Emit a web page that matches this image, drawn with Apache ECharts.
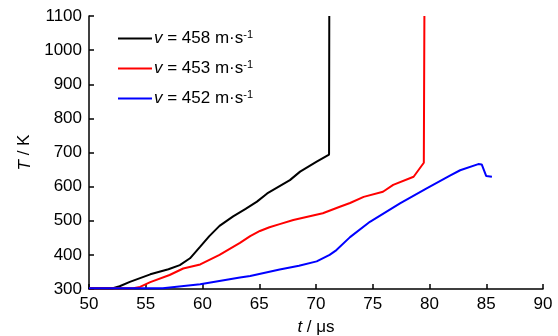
<!DOCTYPE html>
<html>
<head>
<meta charset="utf-8">
<script src="https://cdn.jsdelivr.net/npm/echarts@6/dist/echarts.min.js"></script>
<style>
  html, body { margin: 0; padding: 0; background: #fff; }
  #chart { width: 558px; height: 336px; }
</style>
</head>
<body>
<div id="chart"></div>
<script>
// t (us), T (K)
const v458 = [[50,302],[52.1,302],[52.7,308],[53.6,321],[55.4,343],[57,358],[58,370],[58.9,390],[59.8,424],[60.6,455],[61.5,485],[62.7,513],[63.8,535],[64.8,556],[65.7,580],[67.7,619],[68.6,644],[70.06,673],[71.15,694],[71.17,1100]];
const v453 = [[50,302],[53.9,302],[54.5,306],[55.4,320],[57.1,341],[58.3,360],[59.8,372],[61.5,400],[63.3,435],[64.2,455],[65.06,470],[65.9,481],[66.8,490],[68,502],[70.6,522],[72.1,541],[73,552],[74.2,570],[75.9,585],[76.8,605],[78.6,629],[79.5,670],[79.55,1100]];
const v452 = [[50,302],[56.5,302],[59.8,314],[63.3,334],[64.2,338],[66.8,357],[68.5,368],[70.06,381],[71.2,400],[71.8,414],[73,452],[74.75,497],[77.4,551],[79.75,595],[81.8,632],[82.7,648],[84.3,666],[84.6,665],[85.0,631],[85.5,629]];
const seriesNames = ['458', '453', '452'];
const seriesColors = ['#000000', '#ff0000', '#0000ff'];

const chart = echarts.init(document.getElementById('chart'));
const font = 'Liberation Sans, Arial, sans-serif';

const option = {
  animation: false,
  grid: { left: 89, right: 15, top: 16, bottom: 47, outerBoundsMode: 'none', containLabel: false },
  legend: {
    left: 113,
    top: 24,
    orient: 'vertical',
    icon: 'rect',
    itemWidth: 34,
    itemHeight: 2,
    itemGap: 12,
    textStyle: {
      fontFamily: font,
      fontSize: 17,
      color: '#000',
      padding: [0, 0, 0, -3],
      rich: {
        i: { fontStyle: 'italic', fontFamily: font, fontSize: 17, color: '#000' },
        n: { fontFamily: font, fontSize: 17, color: '#000' },
        sup: { fontFamily: font, fontSize: 11, color: '#000', verticalAlign: 'top', padding: [0, 0, 8, 0] }
      }
    },
    formatter: function (name) {
      return '{i|v}{n| = ' + name + ' m·s}{sup|-1}';
    },
    data: seriesNames
  },
  xAxis: {
    type: 'value',
    min: 50,
    max: 90,
    interval: 5,
    name: '{i|t}{n| / μs}',
    nameLocation: 'middle',
    nameGap: 30,
    nameTextStyle: {
      rich: {
        i: { fontStyle: 'italic', fontFamily: font, fontSize: 17, color: '#000' },
        n: { fontFamily: font, fontSize: 17, color: '#000' }
      }
    },
    axisLine: { lineStyle: { color: '#000', width: 1.5 } },
    axisTick: { inside: true, length: 5, lineStyle: { color: '#000', width: 1.5 } },
    axisLabel: { fontFamily: font, fontSize: 17, color: '#000', margin: 7 },
    splitLine: { show: false }
  },
  yAxis: {
    type: 'value',
    min: 300,
    max: 1100,
    interval: 100,
    name: '{i|T}{n| / K}',
    nameLocation: 'middle',
    nameGap: 52,
    nameRotate: 90,
    nameTextStyle: {
      rich: {
        i: { fontStyle: 'italic', fontFamily: font, fontSize: 17, color: '#000' },
        n: { fontFamily: font, fontSize: 17, color: '#000' }
      }
    },
    axisLine: { show: true, lineStyle: { color: '#000', width: 1.5 } },
    axisTick: { show: true, inside: true, length: 5, lineStyle: { color: '#000', width: 1.5 } },
    axisLabel: {
      fontFamily: font, fontSize: 17, color: '#000', margin: 7,
      formatter: function (v) { return String(v); }
    },
    splitLine: { show: false }
  },
  series: [v458, v453, v452].map(function (d, i) {
    return {
      name: seriesNames[i],
      type: 'line',
      data: d,
      symbol: 'none',
      lineStyle: { color: seriesColors[i], width: 2 },
      itemStyle: { color: seriesColors[i] }
    };
  })
};

chart.setOption(option);
</script>
</body>
</html>
